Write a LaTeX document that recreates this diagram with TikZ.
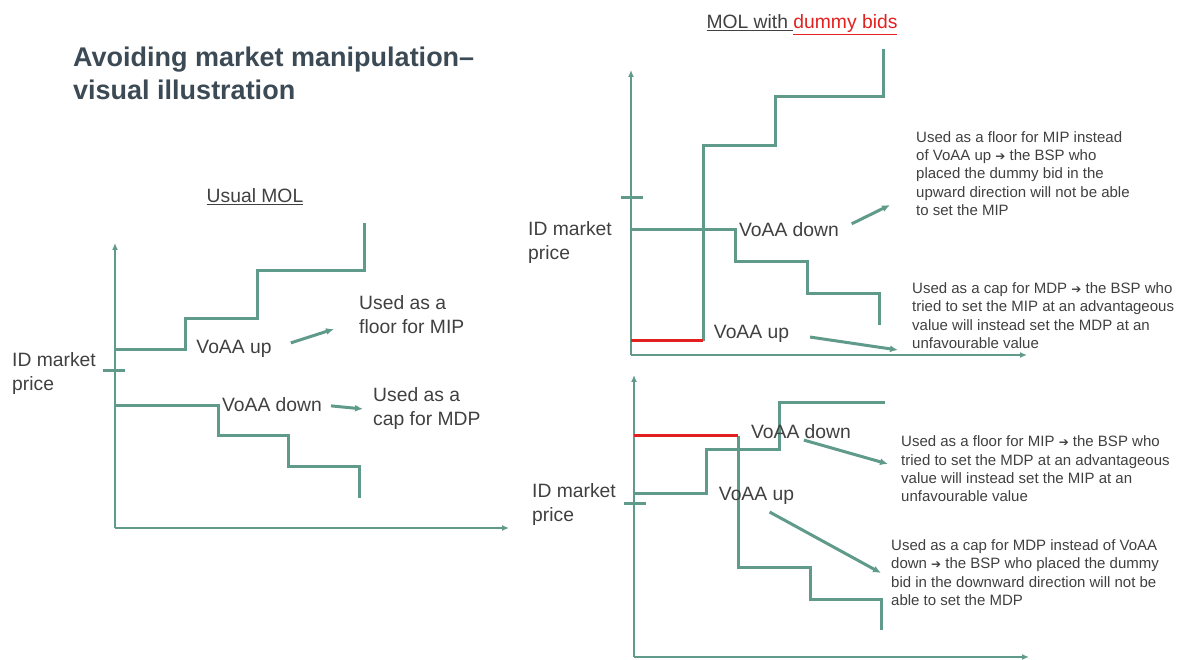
\documentclass[tikz,border=0pt]{standalone}
\usepackage{fontspec}
\setmainfont{Liberation Sans}
\newfontfamily\arrowfont{DejaVu Sans}
\usetikzlibrary{arrows.meta}
\definecolor{molgreen}{RGB}{96,154,138}
\definecolor{txtgray}{RGB}{64,64,64}
\definecolor{titlegray}{RGB}{59,74,84}
\definecolor{dummyred}{RGB}{226,32,32}
\newcommand{\thenarrow}{{\arrowfont\fontsize{12}{18.3}\selectfont ➔}}

\begin{document}
\begin{tikzpicture}[x=1pt, y=-1pt,
        axis/.style={molgreen, line width=2.6pt, -{Latex[length=7pt,width=6pt]}},
        curve/.style={molgreen, line width=3pt},
        dummy/.style={dummyred, line width=3pt},
        pointer/.style={molgreen, line width=3pt, -{Latex[length=8pt,width=7pt]}},
        lbl/.style={text=txtgray, font=\fontsize{19.3}{24}\selectfont, inner sep=0pt, align=left},
        note/.style={text=txtgray, font=\fontsize{15}{18.3}\selectfont, inner sep=0pt, align=left}]
        \useasboundingbox (0,0) rectangle (1179,660);

        \node[font=\bfseries\fontsize{27}{33}\selectfont, text=titlegray, align=left, inner sep=0pt, anchor=west] (title) at (73,73.5) {Avoiding market manipulation–\\visual illustration};

        % usual MOL
        \node[lbl] (usual) at (255,197) {\underline{Usual MOL}};
        \draw[axis] (115,528) -- (115,243);
        \draw[axis] (115,528) -- (509,528);
        \draw[curve] (103,371) -- (125,371);
        \draw[curve] (115,350) -- (185,350) -- (185,319) -- (257,319) -- (257,271) -- (364,271) -- (364,223);
        \draw[curve] (115,406) -- (218,406) -- (218,436) -- (288,436) -- (288,466) -- (359,466) -- (359,498);
        \node[lbl, anchor=west] (lprice) at (12,374) {ID market\\price};
        \node[lbl] (lup) at (234,349) {VoAA up};
        \node[lbl] (ldown) at (272,405) {VoAA down};
        \node[lbl, anchor=west] (lfloor) at (359,315) {Used as a\\floor for MIP};
        \node[lbl, anchor=west] (lcap) at (373,408.5) {Used as a\\cap for MDP};
        \coordinate (lfloorend) at (334,329);
        \coordinate (lcapend) at (363,409);
        \draw[pointer, shorten <=20pt] (lup.east) -- (lfloorend);
        \draw[pointer, shorten <=9pt] (ldown.east) -- (lcapend);

        % MOL with dummy bid, upward
        \node[lbl] (dummyttl) at (802,25) {\underline{MOL with\ }\textcolor{dummyred}{\underline{dummy bids}}};
        \draw[axis] (631,355) -- (631,70);
        \draw[axis] (631,355) -- (1027,355);
        \draw[curve] (621,198) -- (643,198);
        \draw[curve] (703,341) -- (703,146) -- (775,146) -- (775,97) -- (883,97) -- (883,49);
        \draw[dummy] (631,341) -- (703,341);
        \draw[curve] (631,230) -- (735,230) -- (735,262) -- (807,262) -- (807,294) -- (879,294) -- (879,325);
        \node[lbl, anchor=west] (tprice) at (528,243) {ID market\\price};
        \node[lbl] (tdown) at (789,230) {VoAA down};
        \node[lbl] (tup) at (751.5,334) {VoAA up};
        \node[note, anchor=west] (tfloor) at (916,173.5) {Used as a floor for MIP instead\\of VoAA up \thenarrow{} the BSP who\\placed the dummy bid in the\\upward direction will not be able\\to set the MIP};
        \node[note, anchor=west] (tcap) at (912,315.5) {Used as a cap for MDP \thenarrow{} the BSP who\\tried to set the MIP at an advantageous\\value will instead set the MDP at an\\unfavourable value};
        \coordinate (tfloorend) at (890,205);
        \coordinate (tcapend) at (898,350);
        \draw[pointer, shorten <=14pt] (tdown.east) -- (tfloorend);
        \draw[pointer, shorten <=21pt] (tup.east) -- (tcapend);

        % MOL with dummy bid, downward
        \draw[axis] (634,657) -- (634,375);
        \draw[axis] (634,657) -- (1029,657);
        \draw[curve] (624,503) -- (646,503);
        \draw[curve] (738,436) -- (738,567) -- (810,567) -- (810,599) -- (881,599) -- (881,630);
        \draw[dummy] (634,436) -- (738,436);
        \draw[curve] (634,493) -- (706,493) -- (706,450) -- (779,450) -- (779,403) -- (885,403);
        \node[lbl, anchor=west] (bprice) at (532,505) {ID market\\price};
        \node[lbl] (bdown) at (801,432) {VoAA down};
        \node[lbl] (bup) at (756.5,496) {VoAA up};
        \node[note, anchor=west] (bfloor) at (901,469) {Used as a floor for MIP \thenarrow{} the BSP who\\tried to set the MDP at an advantageous\\value will instead set the MIP at an\\unfavourable value};
        \node[note, anchor=west] (bcap) at (891,572.5) {Used as a cap for MDP instead of VoAA\\down \thenarrow{} the BSP who placed the dummy\\bid in the downward direction will not be\\able to set the MDP};
        \coordinate (bfloorend) at (888,464);
        \coordinate (bcapend) at (881,573);
        \draw[pointer, shorten <=3pt] (bdown.south) -- (bfloorend);
        \draw[pointer, shorten <=15pt] (bup.south) -- (bcapend);
    \end{tikzpicture}
\end{document}
